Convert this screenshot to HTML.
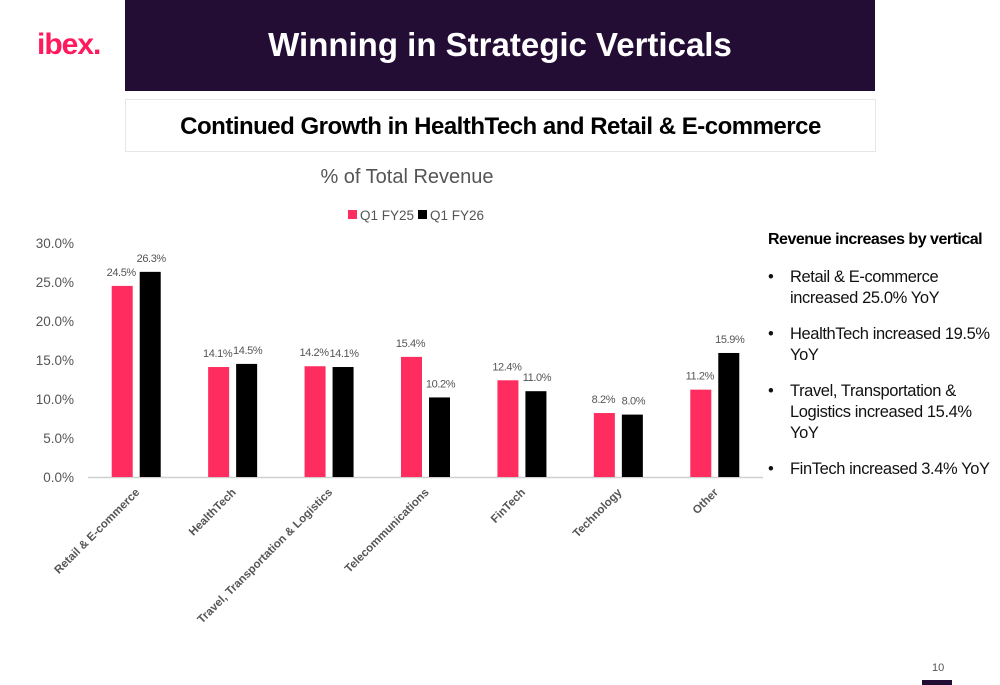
<!DOCTYPE html>
<html><head><meta charset="utf-8"><style>
body{margin:0;width:1000px;height:685px;background:#fff;font-family:"Liberation Sans",sans-serif;position:relative;overflow:hidden}
.abs{position:absolute}
</style></head><body>
<div class="abs" style="left:37px;top:28px;font-size:30px;font-weight:bold;color:#ff1a5e;letter-spacing:-1px">ibex.</div>
<div class="abs" style="left:125px;top:0;width:750px;height:91px;background:#230d35;color:#fff;font-size:33px;font-weight:bold;text-align:center;line-height:90px">Winning in Strategic Verticals</div>
<div class="abs" style="left:125px;top:99px;width:749px;height:51px;border:1px solid #e6e6e6;font-size:24px;font-weight:bold;text-align:center;line-height:53px;letter-spacing:-0.5px">Continued Growth in HealthTech and Retail &amp; E-commerce</div>
<div class="abs" style="left:768px;top:231px;font-size:16px;font-weight:bold;letter-spacing:-0.5px;white-space:nowrap">Revenue increases by vertical</div>
<div class="abs" style="left:768px;top:267px;width:232px;font-size:16.5px;line-height:21px;color:#111;letter-spacing:-0.4px">
<div style="position:relative;padding-left:22px;margin-bottom:15px"><span style="position:absolute;left:0">•</span>Retail &amp; E-commerce<br>increased 25.0% YoY</div>
<div style="position:relative;padding-left:22px;margin-bottom:15px"><span style="position:absolute;left:0">•</span>HealthTech increased 19.5%<br>YoY</div>
<div style="position:relative;padding-left:22px;margin-bottom:15px"><span style="position:absolute;left:0">•</span>Travel, Transportation &amp;<br>Logistics increased 15.4%<br>YoY</div>
<div style="position:relative;padding-left:22px"><span style="position:absolute;left:0">•</span>FinTech increased 3.4% YoY</div>
</div>
<div class="abs" style="left:932px;top:662px;font-size:11px;color:#555">10</div>
<div class="abs" style="left:922px;top:680px;width:30px;height:5px;background:#230d35"></div>
<svg class="abs" style="left:0;top:0" width="1000" height="685">
<g id="g"></g>
</svg>
<script>
const categories=["Retail & E-commerce","HealthTech","Travel, Transportation & Logistics","Telecommunications","FinTech","Technology","Other"];
const q1fy25=[24.5,14.1,14.2,15.4,12.4,8.2,11.2];
const q1fy26=[26.3,14.5,14.1,10.2,11.0,8.0,15.9];
const yTicks=[0,5,10,15,20,25,30];
const seriesNames=["Q1 FY25","Q1 FY26"];
const colors=["#ff2d5f","#000000"];
const g=document.getElementById('g');
const NS="http://www.w3.org/2000/svg";
const x0=88,x1=763,y0=477,yTop=243,yMax=30;
const y=v=>y0-(v/yMax)*(y0-yTop);
const step=(x1-x0)/categories.length;
const cx=i=>x0+step*(i+0.5);
function mk(t,a){const e=document.createElementNS(NS,t);for(const k in a)e.setAttribute(k,a[k]);g.appendChild(e);return e;}
let t=mk('text',{x:407,y:183,'text-anchor':'middle','font-size':20,fill:'#555'});t.textContent='% of Total Revenue';

seriesNames.forEach((n,k)=>{const lx=348+k*70;
let r=mk('rect',{x:lx,y:210,width:9,height:9,fill:colors[k]});

let tx=mk('text',{x:lx+12,y:220,'font-size':13.5,fill:'#555'});tx.textContent=n;
});
yTicks.forEach(v=>{let tx=mk('text',{x:74,y:y(v)+5,'text-anchor':'end','font-size':13.5,fill:'#555'});tx.textContent=v.toFixed(1)+'%';
});
let ax=mk('line',{x1:x0,x2:x1,y1:y0+0.5,y2:y0+0.5,stroke:'#d0d0d0','stroke-width':1.5});

const bw=21,gap=7;
[q1fy25,q1fy26].forEach((s,k)=>{s.forEach((v,i)=>{
const bx=cx(i)-gap/2-bw+k*(bw+gap);
let r=mk('rect',{x:bx,y:y(v),width:bw,height:y0-y(v),fill:colors[k]});

let tx=mk('text',{x:bx+bw/2+(k?1:-1),y:y(v)-10,'text-anchor':'middle','font-size':11,'letter-spacing':'-0.4',fill:'#555'});tx.textContent=v.toFixed(1)+'%';
});});
categories.forEach((c,i)=>{const px=cx(i)+4,py=493;
let tx=mk('text',{x:px,y:py,'text-anchor':'end','font-size':11.5,'font-weight':'bold',fill:'#555',transform:`rotate(-45 ${px} ${py})`});tx.textContent=c;
});
</script>
</body></html>
